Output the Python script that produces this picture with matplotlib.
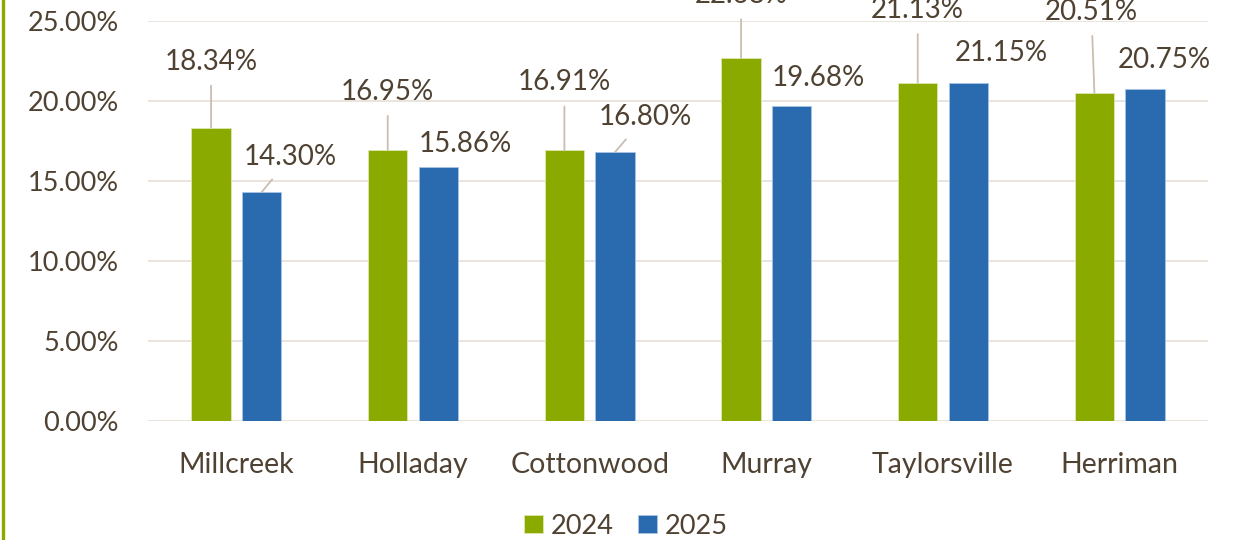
import matplotlib

matplotlib.use("Agg")
import matplotlib.pyplot as plt
from matplotlib.lines import Line2D
import numpy as np

plt.rcParams.update({
    "font.family": ["Lato", "DejaVu Sans"],
    "figure.facecolor": "white",
})

# Data
cities = ["Millcreek", "Holladay", "Cottonwood", "Murray", "Taylorsville", "Herriman"]
rate_2024 = [18.34, 16.95, 16.91, 22.68, 21.13, 20.51]
rate_2025 = [14.30, 15.86, 16.80, 19.68, 21.15, 20.75]
yticks = [0, 5, 10, 15, 20, 25]

# Label placement (offset in pixels from bar top) and leader flag
off_2024 = [(0, 66), (0, 58), (0, 68), (0, 63), (0, 73), (-3, 81)]
lead_2024 = [True, True, True, True, True, True]
off_2025 = [(29, 35), (27, 23), (30, 35), (27, 28), (33, 30), (19, 29)]
lead_2025 = [True, False, True, False, False, False]

C = {
    "g": "#8BAA00",
    "b": "#2A6BB0",
    "text": "#4F4232",
    "grid": "#E6DFD7",
    "lead": "#CBBDB0",
}

W, H = 1235, 540
fig = plt.figure(figsize=(W / 100, H / 100), dpi=100)
ax = fig.add_axes([148 / W, 119 / H, 1060 / W, 400 / H])

x = np.arange(len(cities))
bw = 0.222
dx = 0.143
b1 = ax.bar(x - dx, rate_2024, bw, color=C["g"], edgecolor="#DDE8B0", lw=0.6, label="2024", zorder=3)
b2 = ax.bar(x + dx, rate_2025, bw, color=C["b"], edgecolor="#A8C4E6", lw=0.6, label="2025", zorder=3)

ax.set_xlim(-0.5, len(cities) - 0.5)
ax.set_ylim(0, 25)
ax.set_yticks(yticks)
ax.set_yticklabels([f"{v:.2f}%" for v in yticks])
ax.set_xticks(x)
ax.set_xticklabels(cities)
ax.tick_params(axis="y", length=0, pad=21, labelsize=19.5, labelcolor=C["text"])
ax.tick_params(axis="x", length=0, pad=22, labelsize=20.5, labelcolor=C["text"])
for s in ax.spines.values():
    s.set_visible(False)
ax.grid(axis="y", color=C["grid"], lw=1.2, zorder=0)
ax.set_axisbelow(True)


def put_labels(xs, vals, offs, leads):
    for xi, v, (ox, oy), ld in zip(xs, vals, offs, leads):
        ax.annotate(
            f"{v:.2f}%",
            xy=(xi, v),
            xytext=(ox, oy),
            textcoords="offset pixels",
            ha="center",
            va="center",
            fontsize=20,
            color=C["text"],
            annotation_clip=False,
            arrowprops=dict(arrowstyle="-", color=C["lead"], lw=1.3,
                            shrinkA=6, shrinkB=0) if ld else None,
            zorder=5,
        )


put_labels(x - dx, rate_2024, off_2024, lead_2024)
put_labels(x + dx, rate_2025, off_2025, lead_2025)

fig.legend(
    handles=[b1, b2],
    loc="center",
    bbox_to_anchor=(626 / W, 1 - 526 / H),
    ncol=2,
    frameon=False,
    fontsize=19.5,
    labelcolor=C["text"],
    handlelength=0.68,
    handleheight=0.68,
    handletextpad=0.3,
    columnspacing=0.9,
    borderpad=0.2,
)

fig.add_artist(Line2D([2.5 / W, 2.5 / W], [0, 1], color=C["g"], lw=2.4, transform=fig.transFigure))

fig.savefig("out.png", dpi=100)
